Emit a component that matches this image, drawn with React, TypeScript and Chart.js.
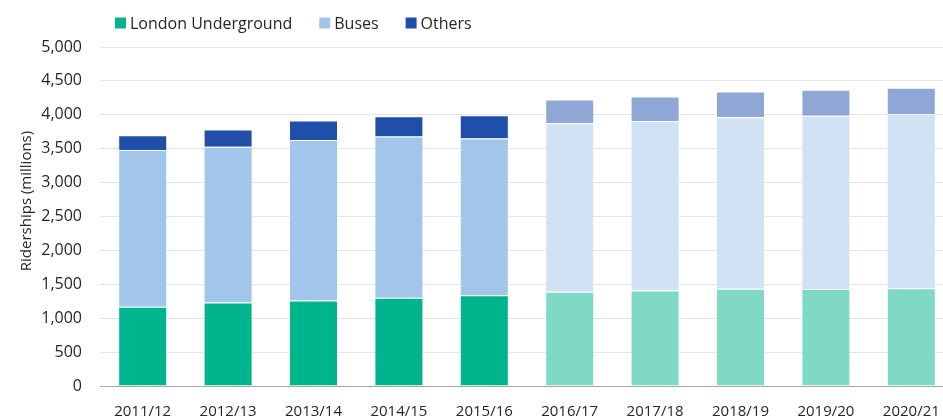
import React, { useEffect, useRef } from 'react';
import { Chart, registerables } from 'chart.js';

Chart.register(...registerables);

const categories = ['2011/12', '2012/13', '2013/14', '2014/15', '2015/16', '2016/17', '2017/18', '2018/19', '2019/20', '2020/21'];
const londonUnderground = [1170, 1230, 1260, 1300, 1340, 1390, 1410, 1435, 1430, 1440];
const buses = [2310, 2300, 2370, 2380, 2310, 2485, 2500, 2530, 2555, 2570];
const others = [220, 255, 285, 300, 345, 350, 360, 380, 385, 390];
const seriesNames = ['London Underground', 'Buses', 'Others'];
const yTickValues = [0, 500, 1000, 1500, 2000, 2500, 3000, 3500, 4000, 4500, 5000];
const yAxisTitle = 'Riderships (millions)';
const firstProjectedIndex = 5;

const solidColors = ['#00B48B', '#A2C6EA', '#1F4FA9'];
const lightColors = ['#7FD9C5', '#D0E2F3', '#8FA7D4'];

const TEXT = '#262626';
const FONT = "'Open Sans', 'Noto Sans', sans-serif";
const NARROW = "'Liberation Sans Narrow', 'Open Sans', sans-serif";

const colorsFor = (i: number) =>
  categories.map((_, k) => (k >= firstProjectedIndex ? lightColors[i] : solidColors[i]));

const customLegendAndTitle = {
  id: 'customLegendAndTitle',
  afterDraw(chart: any) {
    const ctx = chart.ctx;
    ctx.save();
    // legend
    ctx.font = `16px ${FONT}`;
    ctx.textBaseline = 'middle';
    ctx.textAlign = 'left';
    let x = 115;
    const cy = 23;
    chart.data.datasets.forEach((ds: any, i: number) => {
      ctx.fillStyle = solidColors[i];
      ctx.fillRect(x, cy - 5.5, 11, 11);
      ctx.fillStyle = TEXT;
      ctx.fillText(ds.label, x + 15, cy + 1);
      x += 15 + ctx.measureText(ds.label).width + 27;
    });
    // y axis title
    ctx.translate(27, 201);
    ctx.rotate(-Math.PI / 2);
    ctx.font = `15px ${FONT}`;
    ctx.textAlign = 'center';
    ctx.fillStyle = TEXT;
    ctx.fillText(yAxisTitle, 0, 0);
    ctx.restore();
  },
};

export default function App() {
  const ref = useRef<HTMLCanvasElement>(null);
  useEffect(() => {
    if (!ref.current) return;
    const values = [londonUnderground, buses, others];
    const chart = new Chart(ref.current, {
      type: 'bar',
      data: {
        labels: categories,
        datasets: seriesNames.map((name, i) => ({
          label: name,
          data: values[i],
          backgroundColor: colorsFor(i),
          borderColor: 'rgba(255,255,255,0.45)',
          borderWidth: 1,
          barPercentage: 0.574,
          categoryPercentage: 1,
        })),
      },
      options: {
        responsive: false,
        maintainAspectRatio: false,
        animation: false,
        layout: { padding: { top: 47, right: 7, left: 0, bottom: 0 } },
        plugins: { legend: { display: false }, tooltip: { enabled: false } },
        scales: {
          x: {
            stacked: true,
            grid: { display: false, drawTicks: false },
            border: { display: true, color: '#A6A6A6', width: 1 },
            ticks: { font: { family: NARROW, size: 15 }, color: TEXT, padding: 17, maxRotation: 0, autoSkip: false },
            afterFit: (s: any) => { s.height = 34; },
          },
          y: {
            stacked: true,
            min: 0,
            max: 5000,
            afterBuildTicks: (s: any) => { s.ticks = yTickValues.map((v) => ({ value: v })); },
            ticks: {
              font: { family: FONT, size: 16 },
              color: TEXT,
              padding: 18,
              callback: (v: any) => Number(v).toLocaleString('en-US'),
            },
            grid: { color: '#E4E4E4', lineWidth: 1, drawTicks: false },
            border: { display: false },
            afterFit: (s: any) => { s.width = 100; },
          },
        },
      },
      plugins: [customLegendAndTitle],
    });
    return () => chart.destroy();
  }, []);
  return (
    <div style={{ position: 'fixed', left: 0, top: 0, width: 943, height: 420, overflow: 'hidden', background: '#fff' }}>
      <canvas ref={ref} width={961} height={420} style={{ display: 'block' }} />
    </div>
  );
}
